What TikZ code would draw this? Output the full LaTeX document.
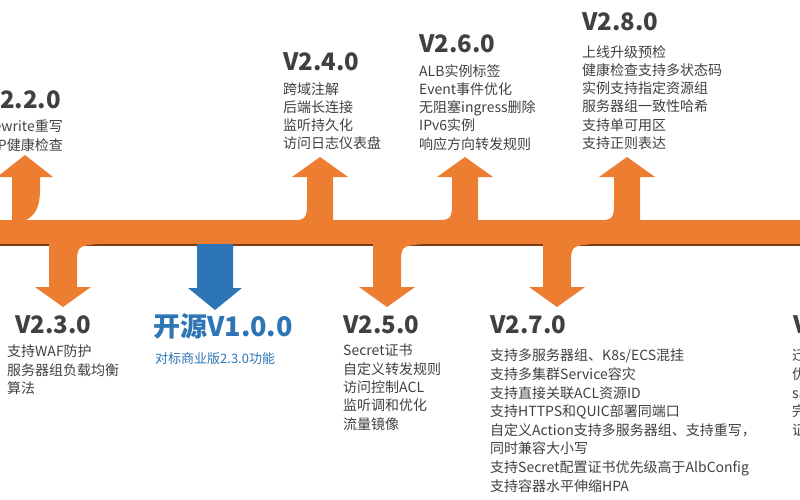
\documentclass[tikz,border=0pt]{standalone}
\usepackage{fontspec}
\setmainfont{Noto Sans CJK SC}
\begin{document}
\begin{tikzpicture}[x=1pt,y=-1pt,
  hd/.style={font=\fontsize{24}{26}\selectfont\bfseries,text=black!75,inner sep=0pt,anchor=north west},
  bd/.style={font=\fontsize{14}{18.3}\selectfont,text=black!75,inner sep=0pt,anchor=north west,align=left},
  bdr/.style={font=\fontsize{14}{18.3}\selectfont,text=black!75,inner sep=0pt,anchor=north east,align=right}]
\definecolor{orange1}{HTML}{ED7D31}
\definecolor{blue1}{HTML}{2E75B6}
\definecolor{shadow1}{HTML}{7A3A12}
\useasboundingbox (0,0) rectangle (800,500);
\clip (0,0) rectangle (800,500);
% bar
\fill[orange1] (0,220) rectangle (800,245);
\draw[shadow1,line width=1.5pt] (0,245) -- (800,245);
% arrows
\newcommand\uparr[1]{\fill[orange1] (#1+13,221) -- (#1+13,177) -- (#1+28,177) -- (#1,157) -- (#1-28,177) -- (#1-13,177) -- (#1-13,200) .. controls (#1-13,220) .. (#1-35,221) -- cycle;}
\newcommand\downarr[1]{\fill[orange1] (#1-14,244) -- (#1-14,287) -- (#1-28,287) -- (#1,307) -- (#1+28,287) -- (#1+14,287) -- (#1+14,266) .. controls (#1+14,246) .. (#1+36,244) -- cycle;}
\fill[orange1] (12,221) -- (12,177) -- (-3,177) -- (25,155) -- (53,177) -- (40,177) -- (40,190) .. controls (40,232) and (10,215) .. (-5,240) -- (-5,221) -- cycle;
\uparr{320}
\uparr{465}
\uparr{627}
\downarr{63}
\downarr{387}
\downarr{557}
\fill[blue1] (197,244) -- (197,288) -- (188,288) -- (215,310) -- (242,288) -- (233,288) -- (233,244) -- cycle;
% texts
\node[hd,anchor=north east] (h22) at (61,90) {V2.2.0};
\node[bdr] (t22) at (63,120) {Rewrite重写\\HTTP健康检查};
\node[hd] (h24) at (283,52) {V2.4.0};
\node[bd] (t24) at (283,82) {跨域注解\\后端长连接\\监听持久化\\访问日志仪表盘};
\node[hd] (h26) at (419,34) {V2.6.0};
\node[bd] (t26) at (419,64) {ALB实例标签\\Event事件优化\\无阻塞ingress删除\\IPv6实例\\响应方向转发规则};
\node[hd] (h28) at (582,12) {V2.8.0};
\node[bd] (t28) at (582,45) {上线升级预检\\健康检查支持多状态码\\实例支持指定资源组\\服务器组一致性哈希\\支持单可用区\\支持正则表达};
\node[hd] (h23) at (15,315) {V2.3.0};
\node[bd] (t23) at (7,345) {支持WAF防护\\服务器组负载均衡\\算法};
\node[hd,text=blue1,font=\fontsize{27}{30}\selectfont\bfseries] (h10) at (153,313) {开源V1.0.0};
\node[bd,text=blue1,font=\fontsize{13}{15}\selectfont] (t10) at (155,352) {对标商业版2.3.0功能};
\node[hd] (h25) at (343,315) {V2.5.0};
\node[bd] (t25) at (343,344) {Secret证书\\自定义转发规则\\访问控制ACL\\监听调和优化\\流量镜像};
\node[hd] (h27) at (490,315) {V2.7.0};
\node[bd,font=\fontsize{14}{18.6}\selectfont] (t27) at (490,349) {支持多服务器组、K8s/ECS混挂\\支持多集群Service容灾\\支持直接关联ACL资源ID\\支持HTTPS和QUIC部署同端口\\自定义Action支持多服务器组、支持重写，\\同时兼容大小写\\支持Secret配置证书优先级高于AlbConfig\\支持容器水平伸缩HPA};
\node[hd] (h29) at (793,315) {V2.9.0};
\node[bd,font=\fontsize{14}{18.6}\selectfont] (t29) at (792,349) {迁移\\优化\\sa\\完善\\证书};
\end{tikzpicture}
\end{document}
